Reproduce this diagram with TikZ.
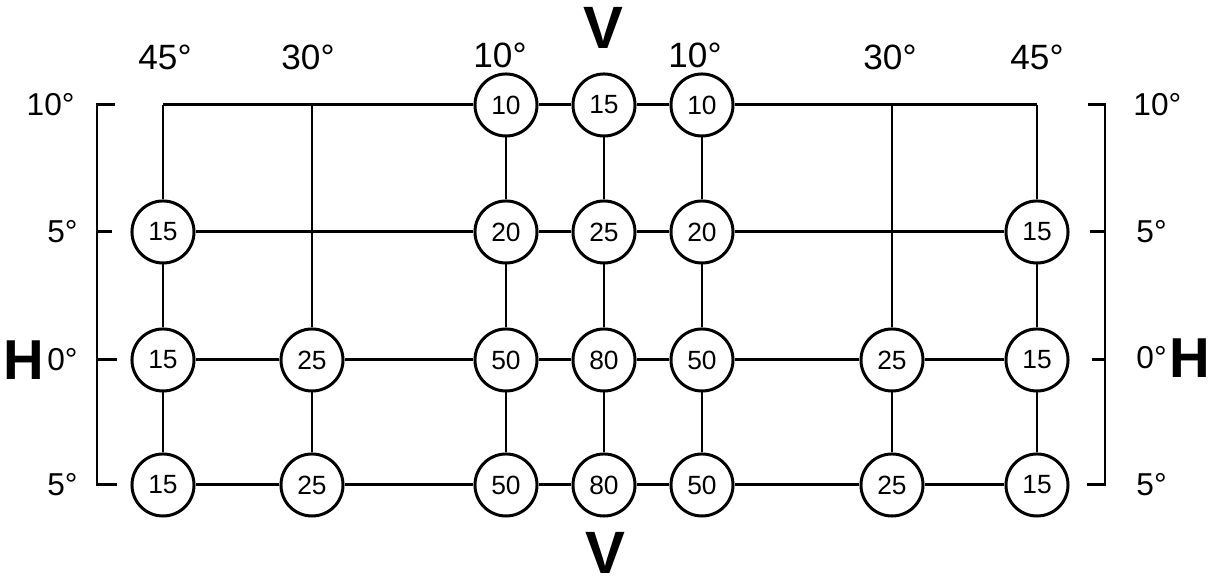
\documentclass[tikz,border=0pt]{standalone}
\usepackage{fontspec}
\setmainfont{Liberation Sans}
\begin{document}
\begin{tikzpicture}[x=0.01cm, y=-0.01cm,
  spot/.style={draw, circle, line width=0.85pt, minimum size=0.62cm, inner sep=0pt, font=\fontsize{7.5}{8}\selectfont},
  grid/.style={line width=0.85pt},
  deg/.style={font=\fontsize{10}{12}\selectfont},
  scl/.style={font=\fontsize{9}{11}\selectfont},
  axis/.style={font=\bfseries\fontsize{17}{20}\selectfont},
  haxis/.style={font=\bfseries\fontsize{16}{18}\selectfont}
]
\useasboundingbox (0,0) rectangle (1217,583);

% top row: only the three middle spots
\coordinate (L45t) at (163,105);
\coordinate (L30t) at (312,105);
\node[spot] (L10t) at (506,105) {10};
\node[spot] (Ct) at (604,105) {15};
\node[spot] (R10t) at (702,105) {10};
\coordinate (R30t) at (892,105);
\coordinate (R45t) at (1037,105);

% 5 degrees up
\node[spot] (L45u) at (163,232) {15};
\node[spot] (L10u) at (506,232) {20};
\node[spot] (Cu) at (604,232) {25};
\node[spot] (R10u) at (702,232) {20};
\node[spot] (R45u) at (1037,232) {15};

% horizon
\node[spot] (L45z) at (163,360) {15};
\node[spot] (L30z) at (312,360) {25};
\node[spot] (L10z) at (506,360) {50};
\node[spot] (Cz) at (604,360) {80};
\node[spot] (R10z) at (702,360) {50};
\node[spot] (R30z) at (892,360) {25};
\node[spot] (R45z) at (1037,360) {15};

% 5 degrees down
\node[spot] (L45d) at (163,485) {15};
\node[spot] (L30d) at (312,485) {25};
\node[spot] (L10d) at (506,485) {50};
\node[spot] (Cd) at (604,485) {80};
\node[spot] (R10d) at (702,485) {50};
\node[spot] (R30d) at (892,485) {25};
\node[spot] (R45d) at (1037,485) {15};

% rows
\draw[grid] (L45t) -- (L10t) -- (Ct) -- (R10t) -- (R45t);
\draw[grid] (L45u) -- (L10u) -- (Cu) -- (R10u) -- (R45u);
\draw[grid] (L45z) -- (L30z) -- (L10z) -- (Cz) -- (R10z) -- (R30z) -- (R45z);
\draw[grid] (L45d) -- (L30d) -- (L10d) -- (Cd) -- (R10d) -- (R30d) -- (R45d);

% columns
\draw[grid] (L45t) -- (L45u) -- (L45z) -- (L45d);
\draw[grid] (L30t) -- (L30z) -- (L30d);
\draw[grid] (L10t) -- (L10u) -- (L10z) -- (L10d);
\draw[grid] (Ct) -- (Cu) -- (Cz) -- (Cd);
\draw[grid] (R10t) -- (R10u) -- (R10z) -- (R10d);
\draw[grid] (R30t) -- (R30z) -- (R30d);
\draw[grid] (R45t) -- (R45u) -- (R45z) -- (R45d);

% column labels
\node[deg] (hL45) at (165,57) {45°};
\node[deg] (hL30) at (308,57) {30°};
\node[deg] (hL10) at (500,55) {10°};
\node[axis] (Vtop) at (603,28) {V};
\node[deg] (hR10) at (695,55) {10°};
\node[deg] (hR30) at (890,57) {30°};
\node[deg] (hR45) at (1037,57) {45°};
\node[axis] (Vbot) at (605,553) {V};

% left scale
\draw[grid] (115,105) -- (97,105) -- (97,485) -- (117,485);
\draw[grid] (97,232) -- (112,232);
\draw[grid] (97,360) -- (117,360);
\node[scl, anchor=east] (sL10) at (87,105) {10°};
\node[scl, anchor=east] (sL5u) at (90,232) {5°};
\node[scl, anchor=east] (sL0) at (90,360) {0°};
\node[scl, anchor=east] (sL5d) at (90,485) {5°};
\node[haxis] (Hleft) at (24,360) {H};

% right scale
\draw[grid] (1088,105) -- (1105,105) -- (1105,485) -- (1087,485);
\draw[grid] (1105,232) -- (1090,232);
\draw[grid] (1105,360) -- (1092,360);
\node[scl, anchor=west] (sR10) at (1121,105) {10°};
\node[scl, anchor=west] (sR5u) at (1124,232) {5°};
\node[scl, anchor=west] (sR0) at (1124,358) {0°};
\node[scl, anchor=west] (sR5d) at (1124,485) {5°};
\node[haxis] (Hright) at (1190,358) {H};
\end{tikzpicture}
\end{document}
